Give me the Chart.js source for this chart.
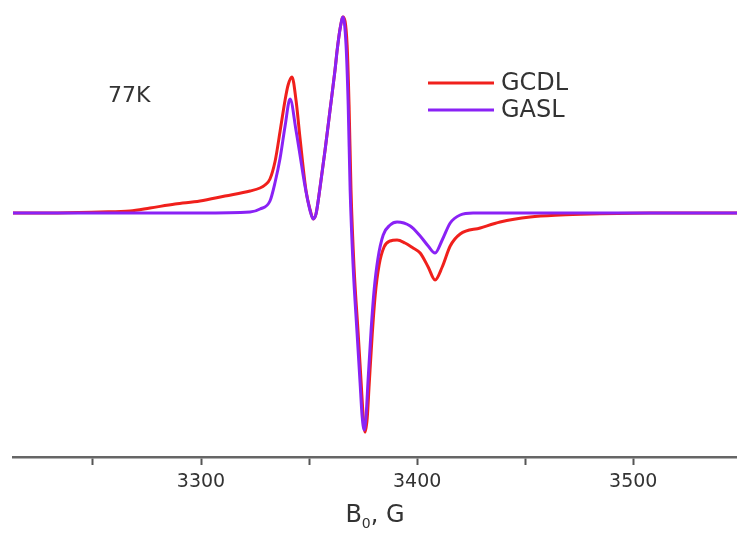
<!DOCTYPE html>
<html>
<head>
<meta charset="utf-8">
<script src="https://cdn.jsdelivr.net/npm/chart.js@4"></script>
<style>
  html, body { margin: 0; padding: 0; background: #fff; }
  #wrap { width: 737px; height: 533px; }
</style>
</head>
<body>
<div id="wrap"><canvas id="epr" width="737" height="533"></canvas></div>
<script>
// EPR spectra at 77K, field in gauss, signal in arbitrary units

const gcdlField = [3213.0, 3230.1, 3253.2, 3267.1, 3276.4, 3288.0, 3299.5, 3311.1, 3322.7, 3327.3, 3329.6,
    3331.9, 3334.3, 3336.6, 3338.9, 3340.3, 3342.1, 3344.0, 3345.8, 3348.6, 3350.5, 3351.9, 3353.2,
    3355.1, 3357.4, 3359.7, 3362.0, 3363.0, 3364.4, 3365.7, 3367.6, 3368.5, 3369.4, 3370.8, 3372.7,
    3374.1, 3375.0, 3375.9, 3376.9, 3377.8, 3379.2, 3380.6, 3382.4, 3384.7, 3387.5, 3390.7, 3394.4,
    3398.1, 3401.4, 3405.1, 3408.3, 3411.6, 3415.3, 3419.9, 3429.2, 3438.4, 3452.3, 3466.2, 3480.1,
    3507.9, 3548.1];
const gcdlSignal = [0, 0, 1, 2, 5, 9, 12, 17, 22, 25, 28,
    34, 52, 82, 113, 128, 136, 112, 75, 22, 3, -6, -1,
    26, 63, 103, 143, 163, 185, 196, 168, 108, 23, -54, -120,
    -170, -202, -219, -205, -172, -122, -82, -52, -34, -28, -27, -30,
    -35, -40, -54, -67, -54, -33, -21, -15, -9, -4, -2, -1,
    0, 0];

const gaslField = [3213.0, 3253.2, 3299.5, 3322.7, 3327.3, 3331.9, 3334.3, 3336.6, 3338.9, 3341.2,
    3344.0, 3345.8, 3348.1, 3350.5, 3351.9, 3353.2, 3355.1, 3357.4, 3359.7, 3362.0, 3363.0, 3364.4,
    3365.7, 3367.1, 3368.1, 3369.0, 3370.4, 3372.2, 3373.6, 3374.5, 3375.5, 3376.4, 3377.3, 3378.7,
    3380.1, 3381.9, 3384.3, 3387.5, 3390.7, 3396.8, 3401.4, 3405.1, 3408.3, 3411.6, 3415.3, 3419.9,
    3425.9, 3466.2, 3507.9, 3548.1];
const gaslSignal = [0, 0, 0, 1, 4, 12, 31, 55, 87, 114,
    82, 58, 27, 2, -6, -1, 26, 63, 103, 143, 163, 185,
    196, 168, 108, 23, -54, -120, -170, -202, -217, -202, -167, -117,
    -77, -45, -22, -12, -9, -13, -23, -33, -40, -27, -10, -2,
    0, 0, 0, 0];

const seriesNames = ['GCDL', 'GASL'];
const seriesColors = ['#f0201c', '#8a22f5'];
const fieldTicks = [3300, 3400, 3500];
const tempLabel = '77K';

function toPoints(xs, ys) {
    return xs.map((x, i) => ({ x: x, y: ys[i] }));
}

// legend, temperature and axis title drawn on top of the plot
const annotations = {
    id: 'annotations',
    afterDraw(chart) {
        const ctx = chart.ctx;
        ctx.save();
        ctx.fillStyle = '#333';
        ctx.textBaseline = 'middle';

        ctx.font = '22px "DejaVu Sans"';
        ctx.fillText(tempLabel, 108, 96);

        const rows = [83, 110];
        seriesNames.forEach((name, i) => {
            ctx.strokeStyle = seriesColors[i];
            ctx.lineWidth = 3;
            ctx.beginPath();
            ctx.moveTo(428, rows[i]);
            ctx.lineTo(494, rows[i]);
            ctx.stroke();
            ctx.fillStyle = '#333';
            ctx.font = '24px "DejaVu Sans"';
            ctx.fillText(name, 501, rows[i] + 1);
        });

        // axis title with subscript
        const xScale = chart.scales.x;
        const cx = (xScale.left + xScale.right) / 2;
        ctx.font = '24px "DejaVu Sans"';
        const wB = ctx.measureText('B').width;
        ctx.font = '14px "DejaVu Sans"';
        const w0 = ctx.measureText('0').width;
        ctx.font = '24px "DejaVu Sans"';
        const wRest = ctx.measureText(', G').width;
        let x0 = cx - (wB + w0 + wRest) / 2;
        ctx.fillText('B', x0, 516);
        ctx.font = '14px "DejaVu Sans"';
        ctx.fillText('0', x0 + wB, 524);
        ctx.font = '24px "DejaVu Sans"';
        ctx.fillText(', G', x0 + wB + w0, 516);
        ctx.restore();
    }
};

const ctx = document.getElementById('epr').getContext('2d');
new Chart(ctx, {
    type: 'line',
    data: {
        datasets: [
            {
                label: seriesNames[1],
                data: toPoints(gaslField, gaslSignal),
                borderColor: seriesColors[1],
                borderWidth: 3,
                pointRadius: 0,
                cubicInterpolationMode: 'monotone'
            },
            {
                label: seriesNames[0],
                data: toPoints(gcdlField, gcdlSignal),
                borderColor: seriesColors[0],
                borderWidth: 3,
                pointRadius: 0,
                cubicInterpolationMode: 'monotone'
            }
        ]
    },
    options: {
        responsive: false,
        animation: false,
        layout: { padding: { left: 13, right: 0, top: 0, bottom: 0 } },
        plugins: {
            legend: { display: false },
            tooltip: { enabled: false }
        },
        scales: {
            x: {
                type: 'linear',
                min: 3213,
                max: 3548,
                border: { display: true, color: '#666', width: 2.5 },
                grid: {
                    drawOnChartArea: false,
                    drawTicks: true,
                    tickLength: 8,
                    tickColor: '#555',
                    tickWidth: 2
                },
                ticks: {
                    stepSize: 50,
                    includeBounds: false,
                    autoSkip: false,
                    maxRotation: 0,
                    padding: 6,
                    color: '#333',
                    font: { family: 'DejaVu Sans', size: 19 },
                    callback: v => fieldTicks.includes(v) ? String(v) : ''
                },
                afterFit: scale => { scale.height = 76; }
            },
            y: {
                display: false,
                min: -244,
                max: 213
            }
        }
    },
    plugins: [annotations]
});
</script>
</body>
</html>
